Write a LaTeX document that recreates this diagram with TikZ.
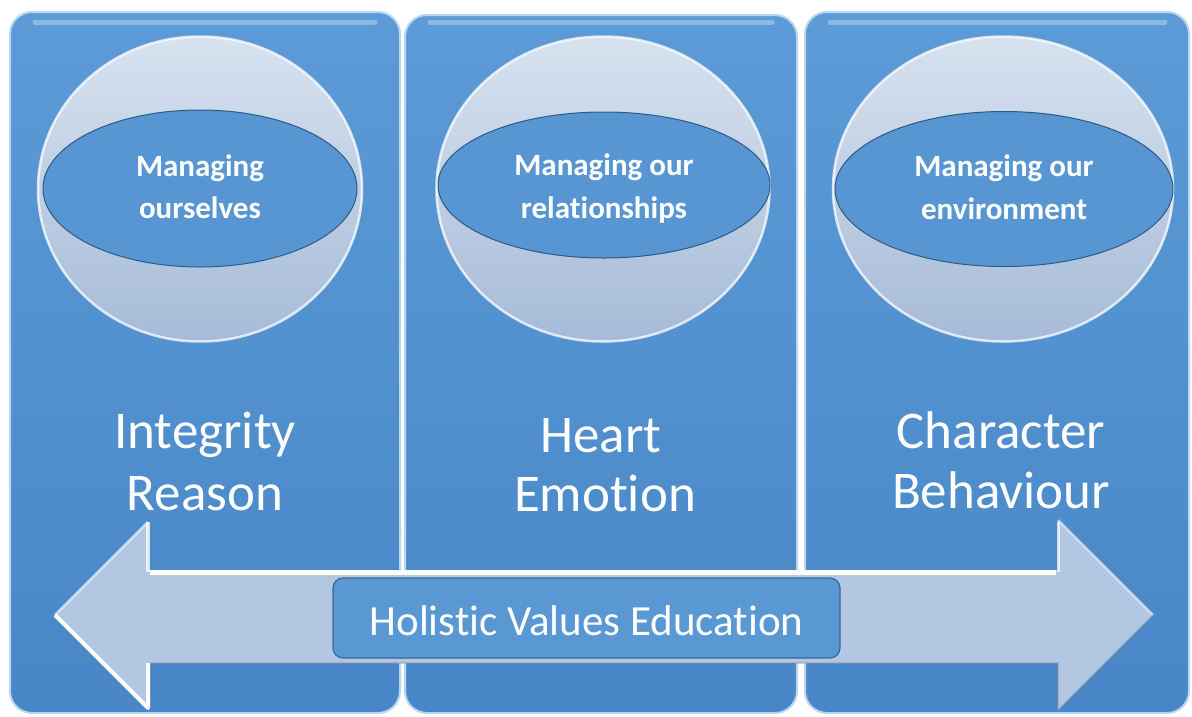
\documentclass[tikz,border=0pt]{standalone}
\usepackage{fontspec}
\setmainfont{Carlito}[Ligatures=NoCommon]
\usetikzlibrary{shapes.geometric}
\definecolor{panelA}{HTML}{5C9BD7}
\definecolor{panelB}{HTML}{4886C7}
\definecolor{panelEdge}{HTML}{B9D6F0}
\definecolor{ballTop}{HTML}{D8E2EF}
\definecolor{ballBot}{HTML}{A6BBD8}
\definecolor{ellFill}{HTML}{5896D3}
\definecolor{ellEdge}{HTML}{2D5A86}
\definecolor{arrFill}{HTML}{B3C7E2}
\definecolor{boxFill}{HTML}{5A98D3}
\definecolor{boxEdge}{HTML}{3A6893}
\tikzset{
  panel/.style={rectangle, rounded corners=22pt, top color=panelA, bottom color=panelB,
    draw=panelEdge, line width=2pt, inner sep=0pt},
  ball/.style={ellipse, inner sep=0pt, top color=ballTop, bottom color=ballBot,
    draw=white, draw opacity=0.75, line width=2.5pt},
  lens/.style={ellipse, inner sep=0pt, fill=ellFill, draw=ellEdge, line width=1pt},
  small/.style={text=white, font=\fontsize{31}{36}\selectfont\bfseries, inner sep=0pt, anchor=base},
  big/.style={text=white, font=\fontsize{53}{62}\selectfont, inner sep=0pt, anchor=base},
  hbox/.style={rectangle, rounded corners=10pt, fill=boxFill, draw=boxEdge, line width=1.2pt, inner sep=0pt}
}
\begin{document}
\begin{tikzpicture}[x=1pt,y=-1pt]
\useasboundingbox (0,0) rectangle (1192,716);
\fill[white] (0,0) rectangle (1192,716);
% panels
\node[panel, minimum width=390pt, minimum height=701pt] (p1) at (205,362.5) {};
\node[panel, minimum width=392pt, minimum height=698pt] (p2) at (601,364) {};
\node[panel, minimum width=384pt, minimum height=701pt] (p3) at (997,362.5) {};
% top glossy highlights
\foreach \a/\b in {35/375, 430/772, 830/1165}{
  \draw[white, opacity=0.3, line width=5pt, line cap=round] (\a,22) -- (\b,22);
}
% balls
\node[ball, minimum width=324pt, minimum height=305pt] (c1) at (200,189) {};
\node[ball, minimum width=333pt, minimum height=305pt] (c2) at (603,189) {};
\node[ball, minimum width=340pt, minimum height=305pt] (c3) at (1003,189) {};
% lenses
\node[lens, minimum width=314pt, minimum height=157pt] (e1) at (200,188.5) {};
\node[lens, minimum width=332pt, minimum height=146pt] (e2) at (604,185) {};
\node[lens, minimum width=338pt, minimum height=155pt] (e3) at (1004,189) {};
% lens texts
\node[small] (m1a) at (200,176) {Managing};
\node[small] (m1b) at (200,218) {ourselves};
\node[small] (m2a) at (604,175) {Managing our};
\node[small] (m2b) at (604,218) {relationships};
\node[small] (m3a) at (1004,176) {Managing our};
\node[small] (m3b) at (1004,219) {environment};
% big texts
\node[big] (t1a) at (205,448) {Integrity};
\node[big] (t1b) at (205,510) {Reason};
\node[big] (t2a) at (601,452) {Heart};
\node[big] (t2b) at (605,511) {Emotion};
\node[big] (t3a) at (1001,448) {Character};
\node[big] (t3b) at (1001,508) {Behaviour};
% double arrow
\coordinate (ltip) at (55,615);
\coordinate (rtip) at (1153,615);
\fill[arrFill] (ltip) -- (148,522) -- (148,570) -- (1058,570) -- (1058,520) -- (rtip)
  -- (1058,710) -- (1058,663) -- (148,663) -- (148,708) -- cycle;
\draw[white, line width=4pt, line join=round] (ltip) -- (148,708) -- (148,663);
\draw[white, opacity=0.8, line width=4pt] (148,522) -- (148,572);
\draw[white, line width=5pt] (150,572) -- (1056,572);
\draw[white, opacity=0.7, line width=3pt] (1058,522) -- (1058,572);
\draw[white, opacity=0.6, line width=2.5pt, line join=round] (ltip) -- (148,522);
\draw[white, opacity=0.5, line width=2.5pt] (1058,520) -- (rtip);
\draw[arrFill!70!black, opacity=0.35, line width=2pt] (150,663) -- (1058,663) -- (1058,710) -- (rtip);
% central box
\node[hbox, minimum width=507pt, minimum height=80pt] (hv) at (586.5,618) {};
\node[text=white, font=\fontsize{43}{50}\selectfont, inner sep=0pt, anchor=base] (hvt) at (586.5,635) {Holistic Values Education};
\end{tikzpicture}
\end{document}
